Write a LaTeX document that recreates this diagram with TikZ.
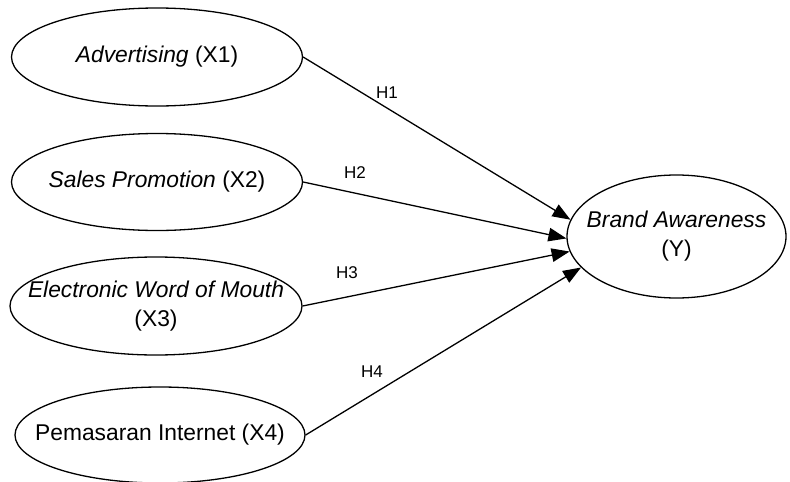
\documentclass[tikz,border=0pt]{standalone}
\usepackage{fontspec}
\setmainfont{Liberation Sans}
\usetikzlibrary{shapes.geometric,arrows.meta}
\begin{document}
\begin{tikzpicture}[x=1pt,y=-1pt,
  construct/.style={draw=black,line width=1.3pt,ellipse,inner sep=0pt,fill=white},
  ctext/.style={font=\fontsize{22.8}{29}\selectfont,align=center,inner sep=0pt},
  hlabel/.style={font=\fontsize{17}{20}\selectfont,inner sep=0pt},
  path/.style={draw=black,line width=1.3pt,-{Triangle[length=18pt,width=13.5pt]}}]
\useasboundingbox[fill=white] (0,0) rectangle (790,482);

% exogenous constructs
\node[construct,minimum width=291pt,minimum height=98pt] (x1) at (157,57) {};
\node[construct,minimum width=291pt,minimum height=97pt] (x2) at (157,182) {};
\node[construct,minimum width=292pt,minimum height=98pt] (x3) at (156,306) {};
\node[construct,minimum width=290pt,minimum height=96pt] (x4) at (160,435) {};
% endogenous construct
\node[construct,minimum width=219pt,minimum height=123pt] (y) at (676.5,236.5) {};

\node[ctext] (t1) at (x1.center) {\textit{Advertising} (X1)};
\node[ctext] (t2) at (x2.center) {\textit{Sales Promotion} (X2)};
\node[ctext] (t3) at (x3.center) {\textit{Electronic Word of Mouth}\\(X3)};
\node[ctext] (t4) at (x4.center) {Pemasaran Internet (X4)};
\node[ctext] (ty) at (y.center) {\textit{Brand Awareness}\\(Y)};

% hypothesised paths
\draw[path] (x1.east) -- (y.171);
\draw[path] (x2.east) -- (y.181);
\draw[path] (x3.east) -- (y.188);
\draw[path] (x4.east) -- (y.198);

\node[hlabel] (h1) at (387,93) {H1};
\node[hlabel] (h2) at (355,173) {H2};
\node[hlabel] (h3) at (347,273) {H3};
\node[hlabel] (h4) at (372,372) {H4};
\end{tikzpicture}
\end{document}
